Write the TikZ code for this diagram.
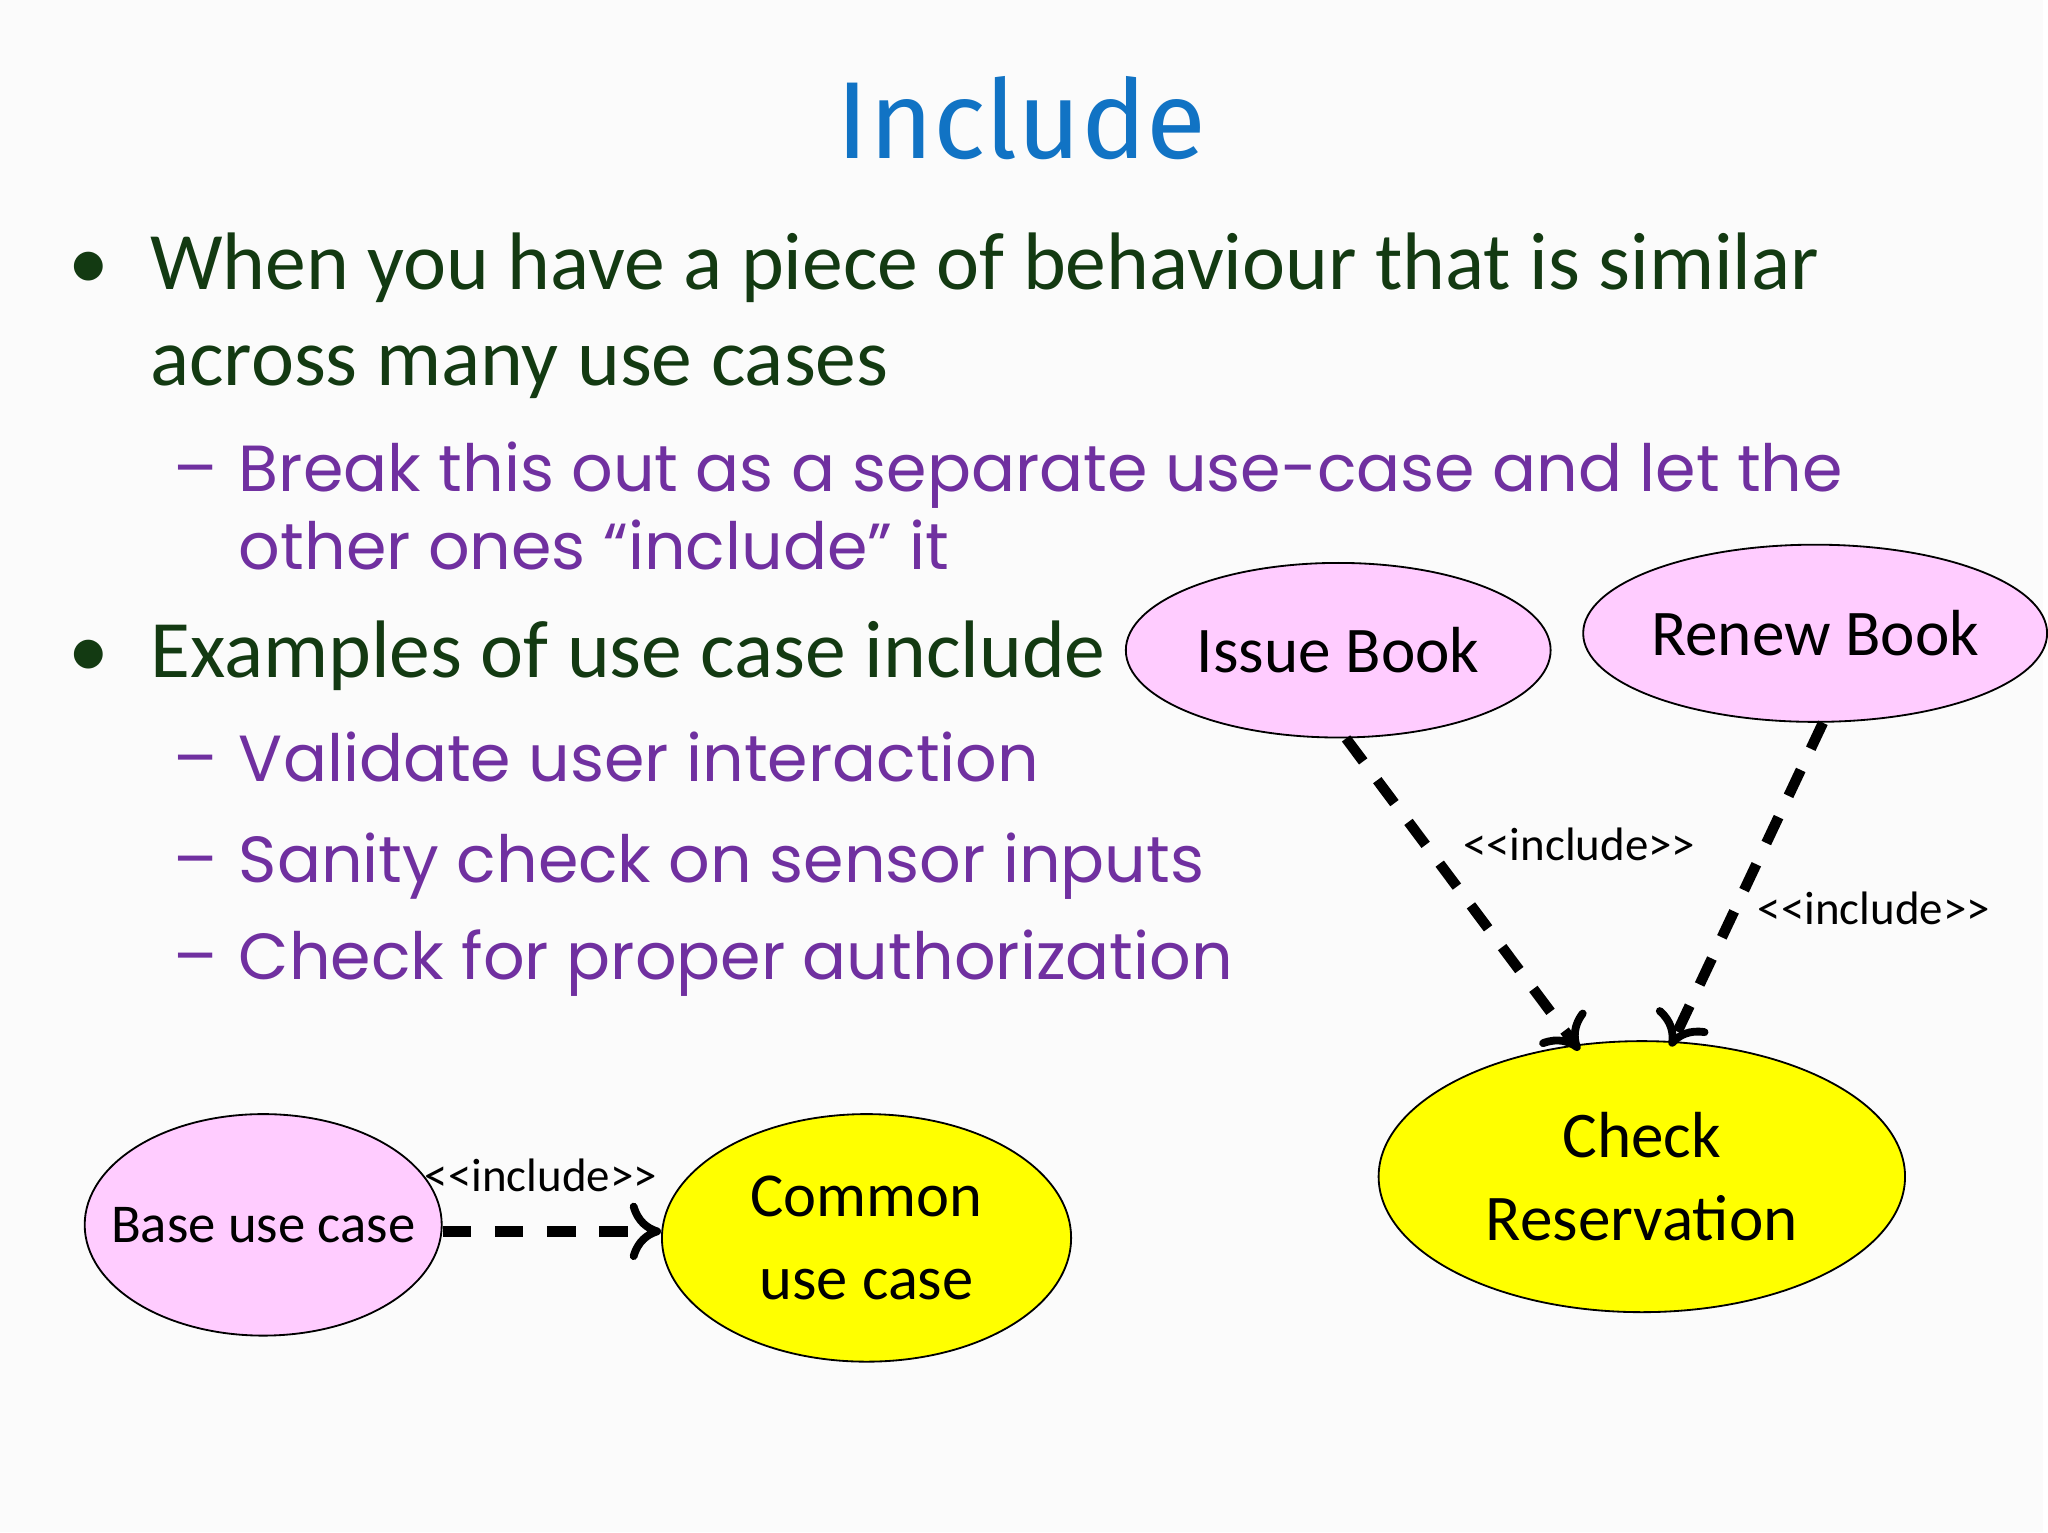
\documentclass[tikz,border=0pt]{standalone}
\usepackage{fontspec}
\setmainfont{Carlito}
\newfontfamily\purplefont{Poppins}
\newfontfamily\titlefont{Fira Sans}
\usetikzlibrary{shapes.geometric,arrows.meta}
\definecolor{bg}{HTML}{FBFBFB}
\definecolor{titleblue}{HTML}{1173C4}
\definecolor{dkgreen}{HTML}{133A12}
\definecolor{purp}{HTML}{7030A0}
\definecolor{pinkfill}{HTML}{FFCCFF}
\definecolor{yelfill}{HTML}{FFFF00}
\newcommand{\incl}{{<}{<}include{>}{>}}
\tikzset{
  uc/.style={ellipse,draw=black,line width=0.7pt,inner sep=0pt,align=center},
  inc/.style={draw=black,line width=4pt,dash pattern=on 11pt off 9pt,-{To[length=12pt,width=22pt,line width=3pt]}},
  lbl/.style={font=\fontsize{18}{21}\selectfont,inner sep=0pt},
  bl/.style={anchor=base west,inner sep=0pt,text=dkgreen,font=\fontsize{31.3}{36}\selectfont},
  sb/.style={anchor=base west,inner sep=0pt,text=purp,font=\purplefont\fontsize{25}{30}\selectfont}
}
\begin{document}
\begin{tikzpicture}[x=0.5pt,y=-0.5pt]
\fill[bg] (0,0) rectangle (1568,1176);
\node[text=titleblue,font=\titlefont\fontsize{42}{48}\selectfont,anchor=base] (title) at (784,122) {Include};
\node[bl] (b1) at (52,222) {•};
\node[bl] (t1) at (115,222) {When you have a piece of behaviour that is similar};
\node[bl] (t2) at (115,296) {across many use cases};
\node[sb] (d1) at (133,377) {–};
\node[sb] (s1) at (183,377) {Break this out as a separate use-case and let the};
\node[sb] (s2) at (183,437) {other ones “include” it};
\node[bl] (b2) at (52,520) {•};
\node[bl] (t3) at (115,520) {Examples of use case include};
\node[sb] (d2) at (133,600) {–};
\node[sb] (s3) at (183,600) {Validate user interaction};
\node[sb] (d3) at (133,677) {–};
\node[sb] (s4) at (183,677) {Sanity check on sensor inputs};
\node[sb] (d4) at (133,752) {–};
\node[sb] (s5) at (183,752) {Check for proper authorization};

\node[uc,fill=pinkfill,minimum width=163pt,minimum height=67pt,font=\fontsize{25}{28}\selectfont] (ib) at (1027,499) {Issue Book};
\node[uc,fill=pinkfill,minimum width=173pt,minimum height=68pt,font=\fontsize{25}{28}\selectfont] (rb) at (1393,486) {Renew Book};
\node[uc,fill=yelfill,minimum width=202pt,minimum height=104pt,font=\fontsize{25}{32}\selectfont] (cr) at (1260,903) {Check\\Reservation};
\node[uc,fill=pinkfill,inner xsep=-18pt,minimum width=137pt,minimum height=85pt,font=\fontsize{21}{24}\selectfont] (bu) at (202,940) {Base use case};
\node[uc,fill=yelfill,minimum width=157pt,minimum height=95pt,font=\fontsize{24}{32}\selectfont] (cu) at (665,950) {Common\\ use case};

\coordinate (e1) at (1212,806);
\coordinate (e2) at (1282,803);
\draw[inc] ([xshift=3pt]ib.south) -- (e1);
\draw[inc] ([xshift=3pt]rb.south) -- (e2);
\draw[inc] ([yshift=-2.5pt]bu.east) -- ([yshift=2.5pt]cu.west);

\node[lbl] (l1) at (1212,648) {\incl};
\node[lbl] (l2) at (1438,697) {\incl};
\node[lbl] (l3) at (415,902) {\incl};
\end{tikzpicture}
\end{document}
